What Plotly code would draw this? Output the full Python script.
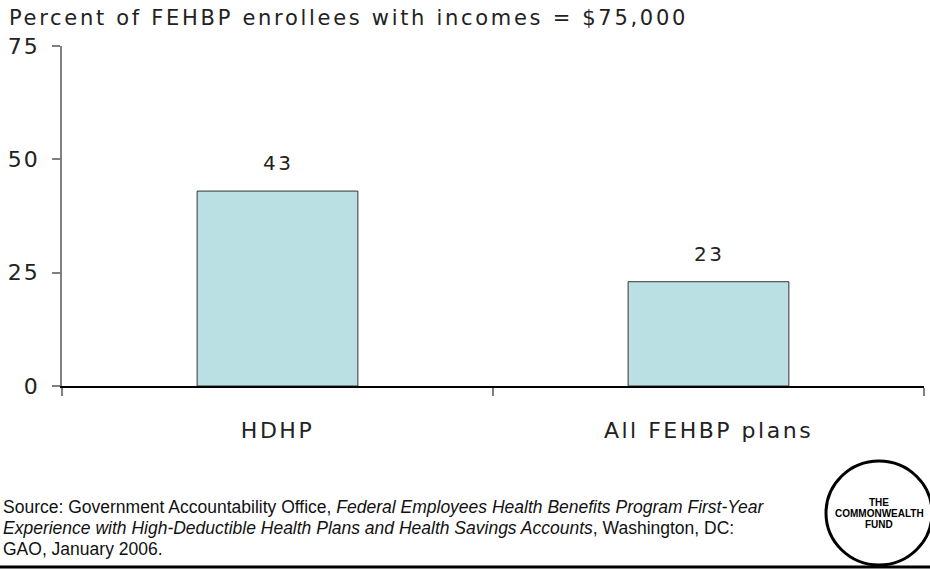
import plotly.graph_objects as go

categories = ["HDHP", "All FEHBP plans"]
values = [43, 23]
y_ticks = [0, 25, 50, 75]
title_text = "Percent of FEHBP enrollees with incomes = $75,000"
source_lines = [
    "Source: Government Accountability Office, <i>Federal Employees Health Benefits Program First-Year</i>",
    "<i>Experience with High-Deductible Health Plans and Health Savings Accounts</i>, Washington, DC:",
    "GAO, January 2006.",
]
logo_lines = ["THE", "COMMONWEALTH", "FUND"]

W, H = 930, 572
L, R, T, B = 62, 6, 46, 186
pw, ph = W - L - R, H - T - B

def px(x):
    return (x - L) / pw

def py(y):
    return (H - B - y) / ph

FONT = "DejaVu Sans"

def spaced(t, sp):
    return '<span style="letter-spacing:%spx">%s</span>' % (sp, t)

fig = go.Figure()
fig.add_trace(go.Bar(
    x=categories, y=values,
    marker=dict(color="#BBE0E3", line=dict(color="#333333", width=1)),
    hoverinfo="skip",
))

for c, v in zip(categories, values):
    fig.add_annotation(x=c, y=v, text=spaced(v, 2.5), showarrow=False, yshift=28,
                       font=dict(family=FONT, size=20, color="#222"))

fig.add_annotation(xref="paper", yref="paper", x=px(7), y=py(18), xanchor="left", yanchor="middle",
                   text=spaced(title_text, 2.7), showarrow=False,
                   font=dict(family=FONT, size=21, color="#222"))

for i, line in enumerate(source_lines):
    fig.add_annotation(xref="paper", yref="paper", x=px(1), y=py(507 + 21 * i), xanchor="left",
                       yanchor="middle", text=line, showarrow=False,
                       font=dict(family="Liberation Sans", size=17.5, color="#111"))

# bottom rule
fig.add_shape(type="line", xref="paper", yref="paper", x0=px(0), x1=px(930), y0=py(567), y1=py(567),
              line=dict(color="black", width=3))
# logo
fig.add_shape(type="circle", xref="paper", yref="paper", x0=px(826), x1=px(932), y0=py(461), y1=py(565),
              line=dict(color="black", width=3))
for t, yy in zip(logo_lines, [502, 513, 524]):
    fig.add_annotation(xref="paper", yref="paper", x=px(879), y=py(yy), xanchor="center",
                       yanchor="middle", text="<b>%s</b>" % t,
                       showarrow=False, font=dict(family="Liberation Sans", size=10, color="black"))

fig.update_layout(
    width=W, height=H, margin=dict(l=L, r=R, t=T, b=B),
    plot_bgcolor="white", paper_bgcolor="white",
    bargap=0.627, showlegend=False,
    xaxis=dict(showline=True, linecolor="black", linewidth=1.5, ticks="outside", tickson="boundaries",
               ticklen=8, tickcolor="#808080", tickwidth=2, showgrid=False,
               tickvals=categories, ticktext=[spaced(c, 2.5) for c in categories],
               tickfont=dict(family=FONT, size=22, color="#222"), ticklabelstandoff=24),
    yaxis=dict(range=[0, 75], tickvals=y_ticks, ticktext=[spaced(v, 2) for v in y_ticks],
               showline=True, linecolor="#808080", linewidth=1.5,
               ticks="outside", ticklen=8, tickcolor="#808080", tickwidth=2, showgrid=False,
               zeroline=False, tickfont=dict(family=FONT, size=22, color="#222"),
               ticklabelstandoff=8),
)

fig.write_html("out.html", config={"displayModeBar": False},
               post_script="document.body.style.margin='0';document.body.style.padding='0';")
